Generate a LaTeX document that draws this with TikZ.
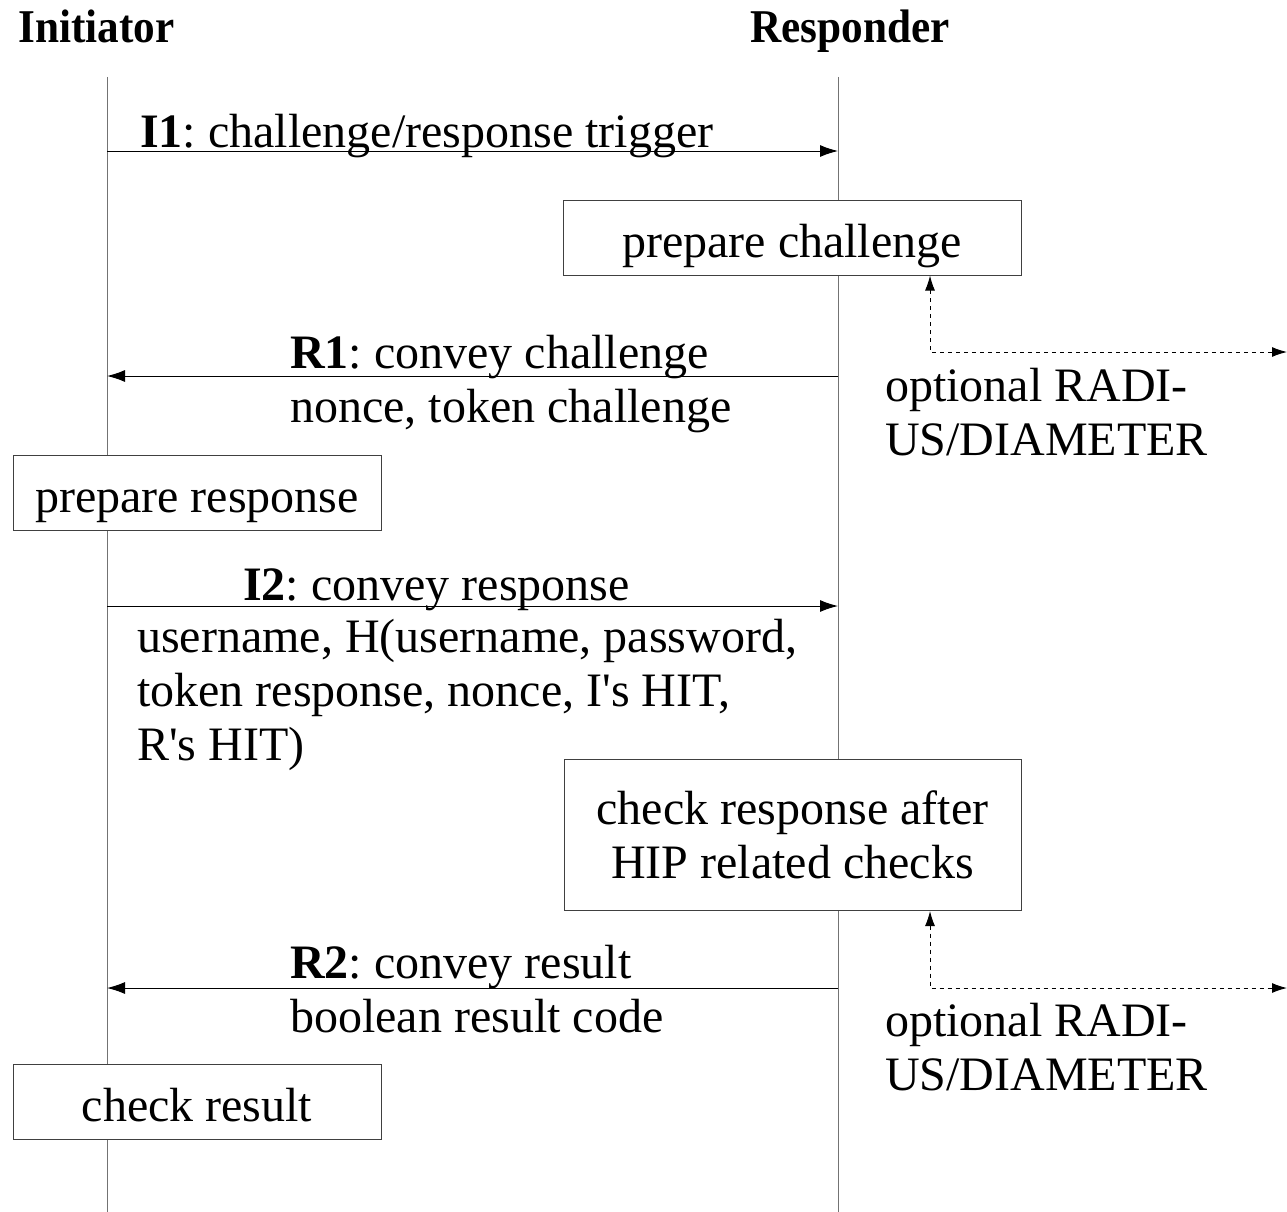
\documentclass[tikz,border=0pt]{standalone}
\usepackage{fontspec}
\setmainfont{Liberation Serif}
\newfontfamily\partyfont{Liberation Serif}[FakeStretch=0.92]
\usetikzlibrary{arrows.meta, positioning}
\frenchspacing

\begin{document}
\begin{tikzpicture}[x=1pt, y=-1pt,
    every node/.style={inner sep=0pt, font=\fontsize{48}{54}\selectfont},
    party/.style={anchor=base west, font=\partyfont\fontsize{47}{54}\selectfont\bfseries},
    msg/.style={anchor=base west, align=left},
    task/.style={rectangle, draw=black!75, line width=1pt, fill=white, align=center},
    oneline/.style={text height=39pt, text depth=0pt},
    lifeline/.style={draw=black!55, line width=1pt},
    arrow/.style={-{Latex[length=18pt, width=12pt]}, line width=1pt},
    aux/.style={{Latex[length=15pt, width=10pt]}-{Latex[length=15pt, width=10pt]}, line width=1pt, dash pattern=on 4pt off 4pt}
]
    \useasboundingbox (0,0) rectangle (1287,1212);

    % parties and lifelines
    \node[party] (ini) at (18,43) {Initiator};
    \node[party] (res) at (750,43) {Responder};
    \coordinate (itop) at (107,77);
    \coordinate (ibot) at (107,1212);
    \coordinate (rtop) at (838,77);
    \coordinate (rbot) at (838,1212);
    \draw[lifeline] (itop) -- (ibot);
    \draw[lifeline] (rtop) -- (rbot);

    % processing steps
    \node[task, oneline, minimum width=458pt, minimum height=75pt] (chal) at (792,237.5) {prepare challenge};
    \node[task, oneline, minimum width=368pt, minimum height=75pt] (presp) at (197,492.5) {prepare response};
    \node[task, minimum width=457pt, minimum height=151pt] (chk) at (792.5,835) {check response after\\HIP related checks};
    \node[task, oneline, minimum width=368pt, minimum height=75pt] (cres) at (197,1102) {check result};

    % message end points
    \coordinate (i1a) at (107,151);
    \coordinate (i1b) at (838,151);
    \coordinate (r1a) at (838,376);
    \coordinate (r1b) at (107,376);
    \coordinate (i2a) at (107,606);
    \coordinate (i2b) at (838,606);
    \coordinate (r2a) at (838,988);
    \coordinate (r2b) at (107,988);

    \draw[arrow] (i1a) -- (i1b);
    \draw[arrow] (r1a) -- (r1b);
    \draw[arrow] (i2a) -- (i2b);
    \draw[arrow] (r2a) -- (r2b);

    % labels (base = last line)
    \node[msg] (i1lab) at (140,147) {\textbf{I1}: challenge/response trigger};
    \node[msg] (r1lab) at (290,422) {\textbf{R1}: convey challenge\\nonce, token challenge};
    \node[msg] (i2lab) at (243,600) {\textbf{I2}: convey response};
    \node[msg] (i2data) at (137,760) {username, H(username, password,\\token response, nonce, I\textquotesingle s HIT,\\R\textquotesingle s HIT)};
    \node[msg] (r2lab) at (290,1032) {\textbf{R2}: convey result\\boolean result code};

    % optional backend exchange
    \coordinate (bend1) at (930,352);
    \coordinate (aaa1) at (1287,352);
    \coordinate (bend2) at (930,988);
    \coordinate (aaa2) at (1287,988);
    \draw[aux] (chal.south -| bend1) -- (bend1) -- (aaa1);
    \draw[aux] (chk.south -| bend2) -- (bend2) -- (aaa2);
    \node[msg] (rad1) at (885,455) {optional RADI-\\US/DIAMETER};
    \node[msg] (rad2) at (885,1090) {optional RADI-\\US/DIAMETER};
\end{tikzpicture}
\end{document}
